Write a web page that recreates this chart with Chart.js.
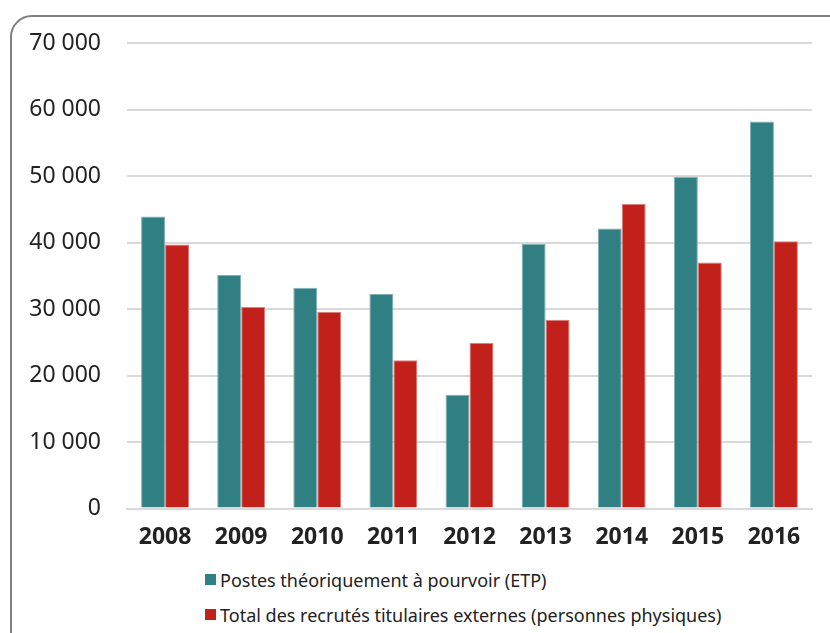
<!DOCTYPE html>
<html>
<head>
<meta charset="utf-8">
<script src="https://cdn.jsdelivr.net/npm/chart.js@4"></script>
<style>
  body { margin: 0; width: 830px; height: 633px; overflow: hidden; background: #fff; position: relative; font-family: "Noto Sans", sans-serif; }
  .frame { position: absolute; left: 10px; top: 15px; width: 900px; height: 700px; border: 2px solid #808080; border-radius: 22px; }
  .chart-box { position: absolute; left: 0; top: 0; width: 830px; height: 560px; }
  .legend { position: absolute; left: 205px; top: 562px; font-size: 18px; color: #222; }
  .legend div { height: 35px; display: flex; align-items: center; }
  .legend span.box { display: inline-block; width: 11px; height: 11px; margin-right: 4px; }
</style>
</head>
<body>
<div class="frame"></div>
<div class="chart-box"><canvas id="myChart"></canvas></div>
<div class="legend"></div>
<script>
const years = ["2008", "2009", "2010", "2011", "2012", "2013", "2014", "2015", "2016"];
const postes = [43900, 35100, 33200, 32300, 17100, 39800, 42100, 49900, 58200];
const recrutes = [39700, 30300, 29600, 22300, 24900, 28400, 45800, 37000, 40200];
const seriesNames = [
  "Postes théoriquement à pourvoir (ETP)",
  "Total des recrutés titulaires externes (personnes physiques)",
];
const seriesColors = ["#307f82", "#c1201b"];
const yTicks = [0, 10000, 20000, 30000, 40000, 50000, 60000, 70000];

const ctx = document.getElementById("myChart");
new Chart(ctx, {
  type: "bar",
  data: {
    labels: years,
    datasets: [
      { label: seriesNames[0], data: postes, backgroundColor: seriesColors[0], borderColor: "#7fb0b2", borderWidth: 1 },
      { label: seriesNames[1], data: recrutes, backgroundColor: seriesColors[1], borderColor: "#dd7f7b", borderWidth: 1 },
    ],
  },
  options: {
    responsive: true,
    maintainAspectRatio: false,
    animation: false,
    datasets: { bar: { categoryPercentage: 0.63, barPercentage: 1 } },
    layout: { padding: { top: 43, right: 18, left: 0, bottom: 0 } },
    plugins: { legend: { display: false }, tooltip: { enabled: false } },
    scales: {
      x: {
        grid: { display: false, drawTicks: false },
        border: { color: "#d9d9d9", width: 2 },
        ticks: { color: "#222", padding: 15, font: { family: "Noto Sans", size: 23, weight: "bold" } },
        afterFit: (scale) => { scale.height = 51.5; },
      },
      y: {
        min: 0,
        max: 70000,
        afterBuildTicks: (scale) => { scale.ticks = yTicks.map((v) => ({ value: v })); },
        grid: { color: "#d9d9d9", lineWidth: 2, drawTicks: false },
        border: { display: false },
        ticks: {
          color: "#222",
          padding: 26,
          font: { family: "Noto Sans", size: 23 },
          callback: (v) => v.toLocaleString("fr-FR").replace(/\s/g, " "),
        },
        afterFit: (scale) => { scale.width = 127; },
      },
    },
  },
});

// legend
let legendBox = document.querySelector(".legend");
seriesNames.forEach((name, i) => {
  legendBox.innerHTML += `<div><span class="box" style="background:${seriesColors[i]}"></span>${name}</div>`;
});
</script>
</body>
</html>
